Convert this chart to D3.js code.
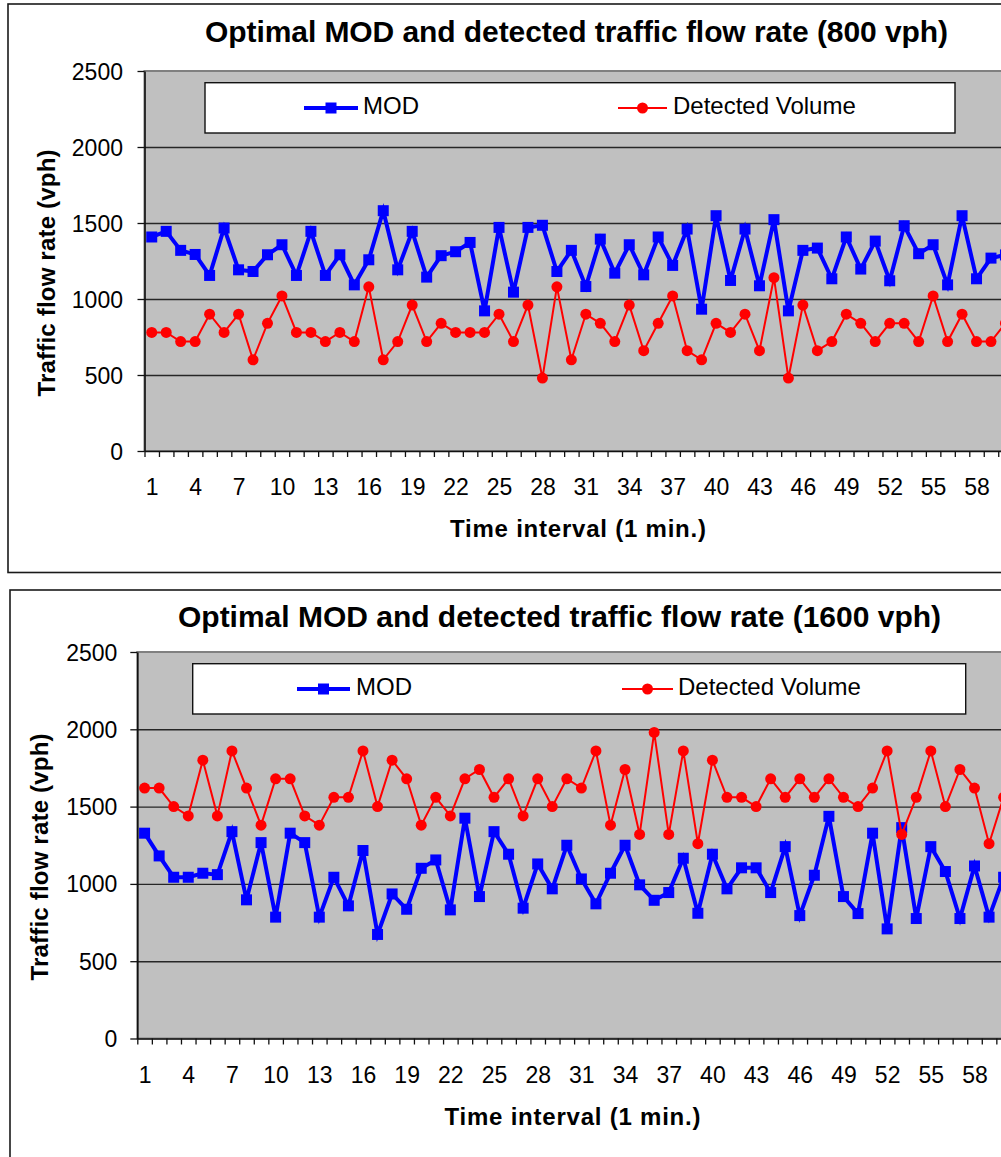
<!DOCTYPE html>
<html><head><meta charset="utf-8">
<script src="https://cdn.jsdelivr.net/npm/d3@7"></script>
<style>html,body{margin:0;padding:0;background:#fff;overflow:hidden}svg{display:block}</style>
</head><body>
<svg id="c" width="1001" height="1157"></svg>
<script>
// ---------- data ----------
const categories = [1,2,3,4,5,6,7,8,9,10,11,12,13,14,15,16,17,18,19,20,
  21,22,23,24,25,26,27,28,29,30,31,32,33,34,35,36,37,38,39,40,
  41,42,43,44,45,46,47,48,49,50,51,52,53,54,55,56,57,58,59,60];
const xTickLabels = [1,4,7,10,13,16,19,22,25,28,31,34,37,40,43,46,49,52,55,58];
const yTicks = [0,500,1000,1500,2000,2500];
const seriesNames = ["MOD","Detected Volume"];
const chartTitles = ["Optimal MOD and detected traffic flow rate (800 vph)",
                     "Optimal MOD and detected traffic flow rate (1600 vph)"];
const xAxisTitle = "Time interval (1 min.)";
const yAxisTitle = "Traffic flow rate (vph)";

const mod800 = [1408,1445,1320,1293,1155,1467,1192,1181,1291,1357,
  1155,1445,1155,1291,1093,1258,1581,1192,1445,1144,
  1285,1311,1372,922,1471,1045,1471,1485,1181,1320,
  1082,1394,1170,1357,1159,1408,1221,1460,933,1548,
  1122,1460,1087,1522,922,1320,1335,1133,1408,1197,
  1381,1120,1482,1298,1357,1093,1548,1133,1269,1290];
const det800 = [780,780,720,720,900,780,900,600,840,1020,
  780,780,720,780,720,1080,600,720,960,720,
  840,780,780,780,900,720,960,480,1080,600,
  900,840,720,960,660,840,1020,660,600,840,
  780,900,660,1140,480,960,660,720,900,840,
  720,840,840,720,1020,720,900,720,720,840];
const mod1600 = [1328,1181,1043,1043,1069,1060,1338,897,1267,785,
  1328,1267,785,1043,858,1216,673,935,836,1101,
  1155,832,1425,918,1338,1192,843,1129,968,1250,
  1032,871,1069,1250,994,894,944,1166,810,1192,
  968,1104,1104,944,1241,795,1056,1437,918,808,
  1328,709,1364,776,1241,1080,776,1116,785,1043];
const det1600 = [1620,1620,1500,1440,1800,1440,1860,1620,1380,1680,
  1680,1440,1380,1560,1560,1860,1500,1800,1680,1380,
  1560,1440,1680,1740,1560,1680,1440,1680,1500,1680,
  1620,1860,1380,1740,1320,1980,1320,1860,1260,1800,
  1560,1560,1500,1680,1560,1680,1560,1680,1560,1500,
  1620,1860,1320,1560,1860,1500,1740,1620,1260,1560];

// ---------- layout ----------
const FONT = "'Liberation Sans', Arial, Helvetica, sans-serif";
const BLUE = "#0000ff", RED = "#ff0000";

const layouts = [
  { box:{x:8,y:4,w:1100,h:568.5},
    plot:{left:144.5, top:71, bottom:451, step:14.47},
    title:{x:576.5, y:42, len:743},
    yTitle:{x:55, y:273, len:247},
    xTitle:{x:578, y:537, len:256},
    yLabelGap:21.5,
    legend:{x:205, y:82.7, w:750, h:50.3, base:114,
            items:[{l0:304,l1:358,tx:363},{l0:618,l1:667,tx:673}]},
    mod:mod800, det:det800, name:chartTitles[0] },
  { box:{x:10,y:590,w:1100,h:700},
    plot:{left:137.3, top:652, bottom:1038.5, step:14.56},
    title:{x:559.5, y:627, len:763},
    yTitle:{x:48, y:857, len:247},
    xTitle:{x:572.5, y:1124.5, len:256},
    yLabelGap:20,
    legend:{x:192.7, y:663.7, w:773, h:50.3, base:695,
            items:[{l0:297,l1:350,tx:356},{l0:622,l1:673,tx:678}]},
    mod:mod1600, det:det1600, name:chartTitles[1] }
];

const svg = d3.select("#c");

layouts.forEach(L => {
  const g = svg.append("g");
  g.append("rect").attr("x",L.box.x).attr("y",L.box.y)
    .attr("width",L.box.w).attr("height",L.box.h)
    .attr("fill","#fff").attr("stroke","#1a1a1a").attr("stroke-width",1.6);

  const P = L.plot;
  const right = P.left + P.step*categories.length;
  const x = d3.scaleLinear().domain([0.5, categories.length+0.5]).range([P.left, right]);
  const y = d3.scaleLinear().domain([0,2500]).range([P.bottom, P.top]);

  g.append("rect").attr("x",P.left).attr("y",P.top)
    .attr("width",right-P.left).attr("height",P.bottom-P.top)
    .attr("fill","#c0c0c0").attr("stroke","#808080").attr("stroke-width",2);

  g.append("g").attr("transform",`translate(${P.left},0)`)
    .call(d3.axisLeft(y).tickValues(yTicks.filter(v=>v>0 && v<2500)).tickSize(-(right-P.left)).tickFormat(""))
    .call(s=>s.select(".domain").remove())
    .call(s=>s.selectAll("line").attr("stroke","#262626").attr("stroke-width",1.4));

  const ya = g.append("g").attr("transform",`translate(${P.left},0)`)
    .call(d3.axisLeft(y).tickValues(yTicks).tickFormat(d3.format("d"))
      .tickSize(7).tickPadding(L.yLabelGap-7).tickSizeOuter(0));
  ya.select(".domain").attr("stroke","#111").attr("stroke-width",1.6);
  ya.selectAll("line").attr("stroke","#111").attr("stroke-width",1.3);
  ya.selectAll("text").attr("font-family",FONT).attr("font-size",23).attr("fill","#000").attr("dy","0.35em");

  const boundaries = categories.map(c=>c-0.5).concat([categories.length+0.5]);
  const xa = g.append("g").attr("transform",`translate(0,${P.bottom})`)
    .call(d3.axisBottom(x).tickValues(boundaries).tickSize(6).tickFormat("").tickSizeOuter(0));
  xa.select(".domain").attr("stroke","#111").attr("stroke-width",1.6);
  xa.selectAll("line").attr("stroke","#111").attr("stroke-width",1.3);
  const xl = g.append("g").attr("transform",`translate(0,${P.bottom})`)
    .call(d3.axisBottom(x).tickValues(xTickLabels).tickSize(0).tickPadding(0).tickFormat(d3.format("d")));
  xl.select(".domain").remove();
  xl.selectAll("text").attr("font-family",FONT).attr("font-size",23).attr("fill","#000")
    .attr("y",44).attr("dy",null);

  const line = d3.line().x((d,i)=>x(categories[i])).y(d=>y(d));
  const gs = g.append("g");
  gs.append("path").datum(L.mod).attr("d",line).attr("fill","none")
    .attr("stroke",BLUE).attr("stroke-width",4).attr("stroke-linejoin","miter");
  gs.selectAll("rect.m").data(L.mod).join("rect").attr("class","m")
    .attr("x",(d,i)=>x(categories[i])-5.5).attr("y",d=>y(d)-5.5)
    .attr("width",11).attr("height",11).attr("fill",BLUE);
  gs.append("path").datum(L.det).attr("d",line).attr("fill","none")
    .attr("stroke",RED).attr("stroke-width",2);
  gs.selectAll("circle.d").data(L.det).join("circle").attr("class","d")
    .attr("cx",(d,i)=>x(categories[i])).attr("cy",d=>y(d)).attr("r",5.5).attr("fill",RED);

  const Lg = L.legend;
  const lg = g.append("g");
  lg.append("rect").attr("x",Lg.x).attr("y",Lg.y).attr("width",Lg.w).attr("height",Lg.h)
    .attr("fill","#fff").attr("stroke","#111").attr("stroke-width",1.4);
  const cy = Lg.base - 6;
  seriesNames.forEach((nm,k)=>{
    const it = Lg.items[k];
    const col = k===0?BLUE:RED;
    lg.append("line").attr("x1",it.l0).attr("x2",it.l1).attr("y1",cy).attr("y2",cy)
      .attr("stroke",col).attr("stroke-width",k===0?4:2);
    const mx = (it.l0+it.l1)/2;
    if(k===0) lg.append("rect").attr("x",mx-5.5).attr("y",cy-5.5).attr("width",11).attr("height",11).attr("fill",col);
    else lg.append("circle").attr("cx",mx).attr("cy",cy).attr("r",5.5).attr("fill",col);
    lg.append("text").attr("x",it.tx).attr("y",Lg.base).text(nm)
      .attr("font-family",FONT).attr("font-size",24).attr("fill","#000");
  });

  g.append("text").attr("x",L.title.x).attr("y",L.title.y).attr("text-anchor","middle")
    .attr("font-family",FONT).attr("font-weight","bold").attr("font-size",30)
    .attr("textLength",L.title.len).attr("lengthAdjust","spacing").text(L.name);
  g.append("text").attr("x",L.xTitle.x).attr("y",L.xTitle.y).attr("text-anchor","middle")
    .attr("font-family",FONT).attr("font-weight","bold").attr("font-size",24)
    .attr("textLength",L.xTitle.len).attr("lengthAdjust","spacing").text(xAxisTitle);
  g.append("text").attr("transform",`translate(${L.yTitle.x},${L.yTitle.y}) rotate(-90)`)
    .attr("text-anchor","middle")
    .attr("font-family",FONT).attr("font-weight","bold").attr("font-size",24)
    .attr("textLength",L.yTitle.len).attr("lengthAdjust","spacing").text(yAxisTitle);
});
</script>
</body></html>
